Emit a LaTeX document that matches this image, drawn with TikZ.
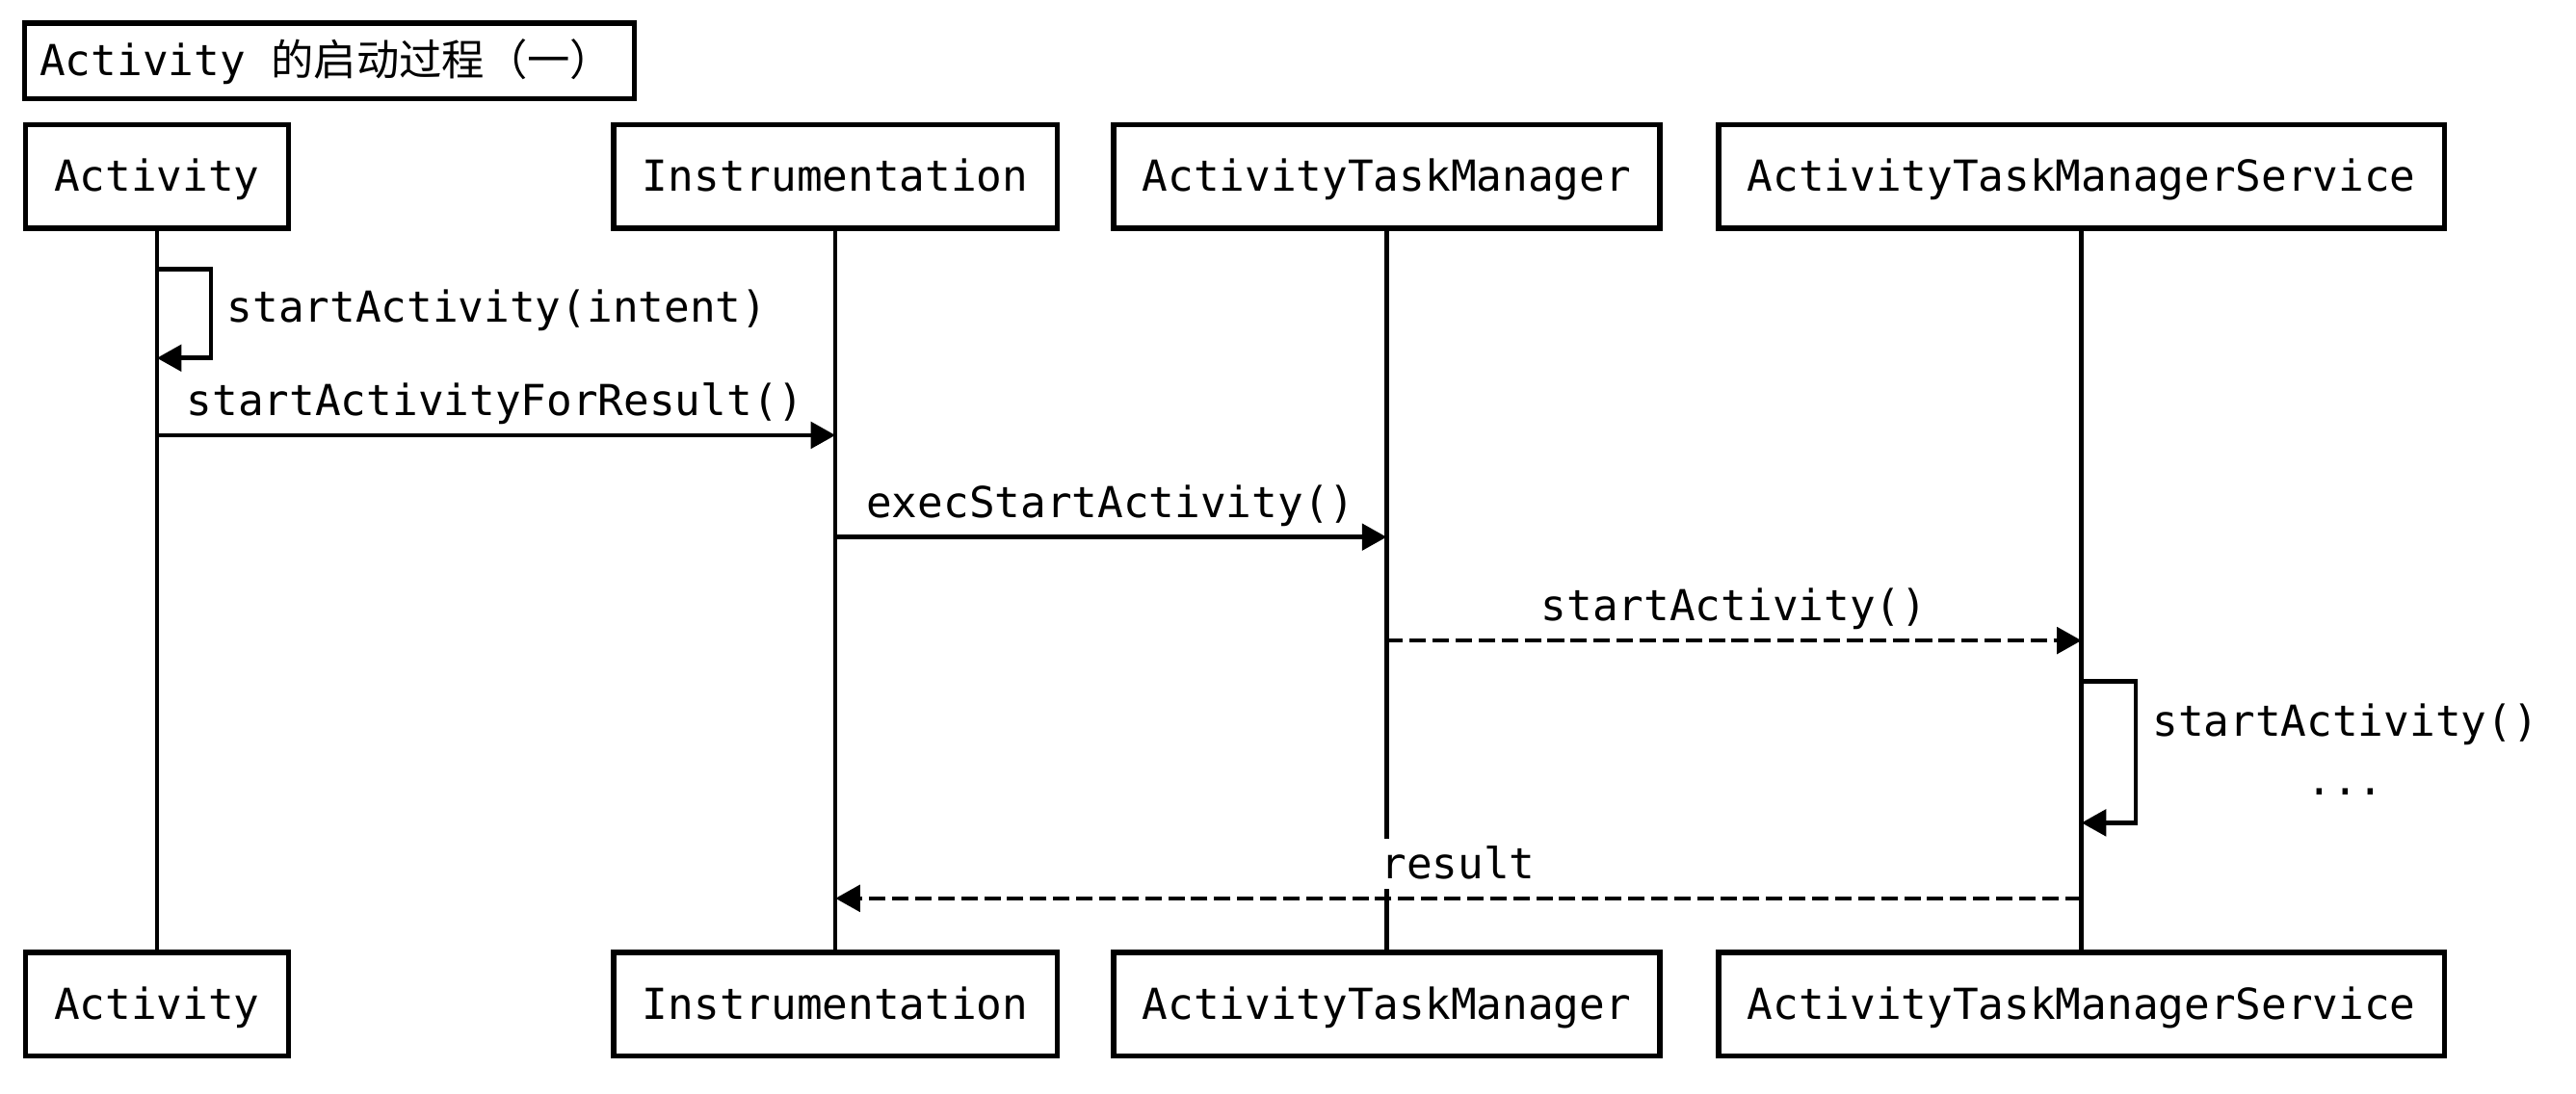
\documentclass[tikz,border=0pt]{standalone}
\usepackage{fontspec}
\setmainfont{DejaVu Sans Mono}
\newfontfamily\cjk{Noto Sans CJK SC}
\usetikzlibrary{arrows.meta}
\begin{document}
\begin{tikzpicture}[x=1pt,y=-1pt,
  every node/.style={font=\fontsize{26}{36}\selectfont},
  part/.style={draw, line width=3.2pt, minimum height=63, inner xsep=17.5, inner ysep=0, text height=23, text depth=5},
  life/.style={line width=2.7pt},
  msg/.style={line width=2.7pt, -{Triangle[length=15pt,width=16pt]}},
  rmsg/.style={msg, dash pattern=on 10pt off 4pt},
  lbl/.style={fill=white, inner sep=0pt, text height=24, text depth=6, anchor=base}]
\fill[white] (0,0) rectangle (1568,666);
\useasboundingbox (0,0) rectangle (1568,666);
% title
\draw[line width=3.2pt] (15,14) rectangle (386,60);
\node[anchor=base west, inner sep=0pt] (title) at (24,46) {Activity {\cjk 的启动过程（一）}};
% participants
\node[part] (a1) at (95.5,107.5) {Activity};
\node[part] (i1) at (508.5,107.5) {Instrumentation};
\node[part] (t1) at (844,107.5) {ActivityTaskManager};
\node[part] (s1) at (1267,107.5) {ActivityTaskManagerService};
\node[part] (a2) at (95.5,611.5) {Activity};
\node[part] (i2) at (508.5,611.5) {Instrumentation};
\node[part] (t2) at (844,611.5) {ActivityTaskManager};
\node[part] (s2) at (1267,611.5) {ActivityTaskManagerService};
% lifelines
\draw[life] (a1.south) -- (a2.north);
\draw[life] (i1.south) -- (i2.north);
\draw[life] (t1.south) -- (t2.north);
\draw[life] (s1.south) -- (s2.north);
% coordinates on lifelines
\coordinate (m1a) at (a1 |- 0,164);
\coordinate (m1b) at (a1 |- 0,218);
\coordinate (m2a) at (a1 |- 0,265);
\coordinate (m2b) at (i1 |- 0,265);
\coordinate (m3a) at (i1 |- 0,327);
\coordinate (m3b) at (t1 |- 0,327);
\coordinate (m4a) at (t1 |- 0,390);
\coordinate (m4b) at (s1 |- 0,390);
\coordinate (m5a) at (s1 |- 0,415);
\coordinate (m5b) at (s1 |- 0,501);
\coordinate (m6a) at (s1 |- 0,547);
\coordinate (m6b) at (i1 |- 0,547);
% labels
\node[lbl, anchor=base west] (l1) at (138,196) {startActivity(intent)};
\node[lbl] (l2) at (301.5,253) {startActivityForResult()};
\node[lbl] (l3) at (676,315) {execStartActivity()};
\node[lbl] (l4) at (1055.5,378) {startActivity()};
\node[lbl, anchor=base west] (l5) at (1310,448) {startActivity()};
\node[lbl] (l5b) at (l5.center |- 0,484) {...};
\node[lbl] (l6) at (887.5,535) {result};
% messages
\draw[msg] (m1a) -- ++(33,0) |- (m1b);
\draw[msg] (m2a) -- (m2b);
\draw[msg] (m3a) -- (m3b);
\draw[rmsg] (m4a) -- (m4b);
\draw[msg] (m5a) -- ++(33,0) |- (m5b);
\draw[rmsg] (m6a) -- (m6b);
\end{tikzpicture}
\end{document}
